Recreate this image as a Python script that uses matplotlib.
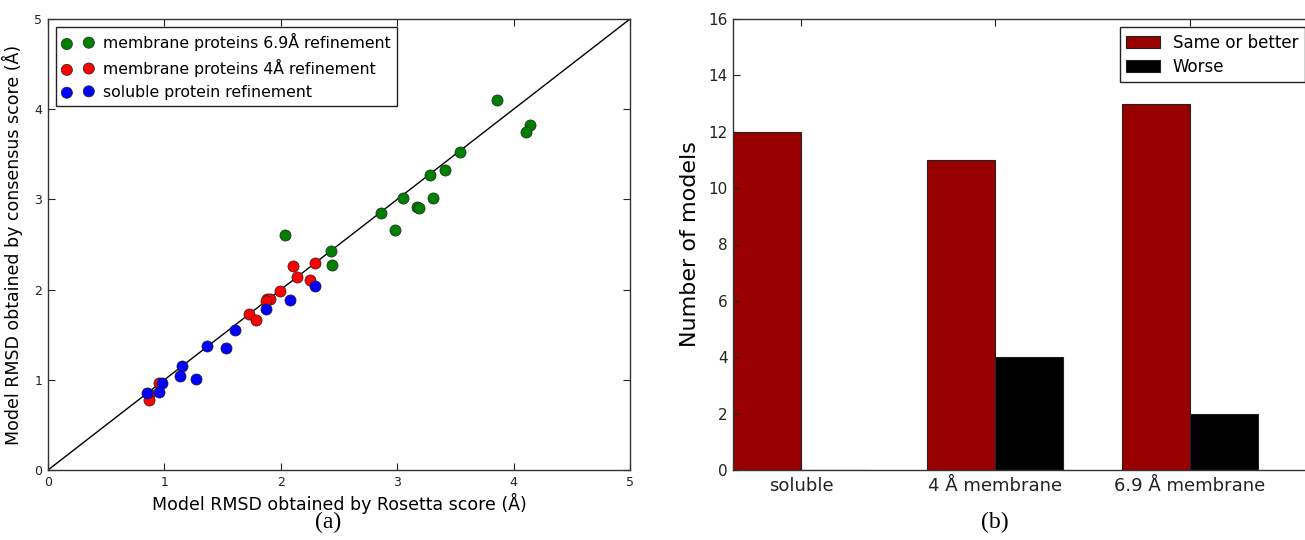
import matplotlib
matplotlib.use("Agg")
import matplotlib.pyplot as plt
import numpy as np

# ----------------------------
# data (a): RMSD Rosetta vs consensus
# ----------------------------
green_x = [3.86, 4.14, 4.105, 3.54, 3.41, 3.28, 3.05, 3.31, 3.17, 3.19, 2.86, 2.98, 2.04, 2.43, 2.44]
green_y = [4.10, 3.82, 3.75, 3.53, 3.33, 3.27, 3.01, 3.01, 2.92, 2.90, 2.85, 2.66, 2.61, 2.43, 2.27]

red_x = [2.105, 2.29, 2.14, 2.25, 1.99, 1.88, 1.91, 1.87, 1.73, 1.79, 0.95, 0.87, 0.865]
red_y = [2.26, 2.29, 2.14, 2.11, 1.99, 1.90, 1.90, 1.87, 1.73, 1.66, 0.97, 0.84, 0.78]

blue_x = [2.29, 2.08, 1.87, 1.605, 1.365, 1.53, 1.15, 1.135, 1.27, 0.98, 0.955, 0.85]
blue_y = [2.04, 1.89, 1.78, 1.55, 1.37, 1.35, 1.15, 1.04, 1.01, 0.97, 0.86, 0.85]

# ----------------------------
# data (b): model counts
# ----------------------------
groups = ["soluble", "4 Å membrane", "6.9 Å membrane"]
same_or_better = [12, 11, 13]
worse = [0, 4, 2]

W, H = 1305, 540
fig = plt.figure(figsize=(W / 100, H / 100), dpi=100)

def px_axes(x0, y0, x1, y1):
    return fig.add_axes([x0 / W, (H - y1) / H, (x1 - x0) / W, (y1 - y0) / H])

def style_ticks(ax, size):
    ax.tick_params(direction="in", top=True, right=True, length=5, width=0.8,
                   labelsize=size, colors="#222222", pad=4)
    for s in ax.spines.values():
        s.set_linewidth(1.0)
        s.set_color("#333333")

# ---- panel (a) ----
ax1 = px_axes(48, 19, 630, 470)
ax1.plot([0, 5], [0, 5], color="black", lw=1.0, zorder=1)
kw = dict(s=64, edgecolors="#222222", linewidths=0.5, zorder=3)
ax1.scatter(green_x, green_y, c="green", label="membrane proteins 6.9Å refinement", **kw)
ax1.scatter(red_x, red_y, c="red", label="membrane proteins 4Å refinement", **kw)
ax1.scatter(blue_x, blue_y, c="blue", label="soluble protein refinement", **kw)
ax1.set_xlim(0, 5)
ax1.set_ylim(0, 5)
ax1.set_xticks(range(6))
ax1.set_yticks(range(6))
style_ticks(ax1, 9)
ax1.set_xlabel("Model RMSD obtained by Rosetta score (Å)", fontsize=12.5, labelpad=3)
ax1.set_ylabel("Model RMSD obtained by consensus score (Å)", fontsize=12.5, labelpad=8)
leg1 = ax1.legend(loc="upper left", scatterpoints=2, fontsize=11.3, fancybox=False,
                  framealpha=1, edgecolor="#222222", borderaxespad=0.5,
                  handletextpad=0.6, labelspacing=0.5)
leg1.get_frame().set_linewidth(1.0)

# ---- panel (b) ----
ax2 = px_axes(733, 19, 1312, 470)
xpos = np.arange(len(groups))
bw = 0.35
ax2.bar(xpos - bw, same_or_better, width=bw, align="edge", color="#990000",
        edgecolor="#222222", linewidth=0.8, label="Same or better")
ax2.bar(xpos, worse, width=bw, align="edge", color="black",
        edgecolor="#222222", linewidth=0.8, label="Worse")
ax2.set_xlim(-0.35, 2.63)
ax2.set_ylim(0, 16)
ax2.set_yticks(range(0, 17, 2))
ax2.set_xticks(xpos)
ax2.set_xticklabels(groups)
style_ticks(ax2, 11)
ax2.tick_params(axis="x", labelsize=13, pad=5)
ax2.set_ylabel("Number of models", fontsize=16, labelpad=6)
leg2 = fig.legend(*ax2.get_legend_handles_labels(), loc="upper right",
                  bbox_to_anchor=(1305 / W, (H - 27) / H), fontsize=12,
                  fancybox=False, framealpha=1, edgecolor="#222222",
                  borderaxespad=0, handlelength=2.0, labelspacing=0.35)
leg2.get_frame().set_linewidth(1.0)

# panel letters
fig.text(328 / W, 1 - 522 / H, "(a)", ha="center", va="center",
         family="Liberation Serif", fontsize=17)
fig.text(995 / W, 1 - 522 / H, "(b)", ha="center", va="center",
         family="Liberation Serif", fontsize=17)

fig.savefig("out.png", dpi=100)
